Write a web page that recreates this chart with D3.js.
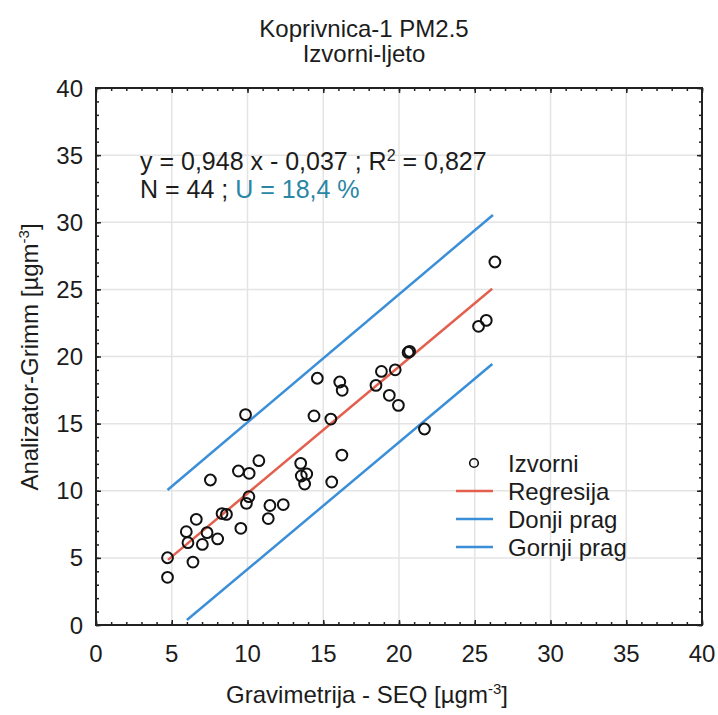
<!DOCTYPE html>
<html>
<head>
<meta charset="utf-8">
<script src="https://cdn.jsdelivr.net/npm/d3@7"></script>
<style>
  body { margin: 0; background: #fff; }
  text { font-family: "Liberation Sans", Arial, sans-serif; fill: #1c1c1c; }
</style>
</head>
<body>
<div id="chart"></div>
<script>
// data
const xTicks = [0, 5, 10, 15, 20, 25, 30, 35, 40]
const yTicks = [0, 5, 10, 15, 20, 25, 30, 35, 40]

// Gravimetrija - SEQ (x) and Analizator-Grimm (y), 44 samples
const gravimetrija = [4.72, 4.72, 6.40, 6.07, 5.96, 6.62, 7.02, 7.33, 8.03, 7.55,
  8.32, 8.61, 9.56, 9.40, 10.11, 9.87, 10.09, 9.93, 10.75, 11.48,
  11.37, 12.36, 13.51, 13.55, 13.91, 13.77, 14.39, 14.61, 15.50, 15.56,
  16.09, 16.25, 16.23, 18.48, 18.84, 19.36, 19.75, 19.96, 20.60, 20.70,
  21.68, 25.25, 25.76, 26.33]
const analizator = [5.01, 3.55, 4.69, 6.13, 6.95, 7.87, 6.00, 6.88, 6.41, 10.80,
  8.30, 8.24, 7.20, 11.47, 11.30, 15.67, 9.56, 9.06, 12.24, 8.90,
  7.93, 8.97, 12.04, 11.10, 11.25, 10.50, 15.57, 18.38, 15.34, 10.65,
  18.10, 17.48, 12.66, 17.85, 18.89, 17.11, 19.01, 16.36, 20.30, 20.38,
  14.60, 22.25, 22.69, 27.04]

// line end points (x, y)
const regresijaX = [4.75, 26.15]
const regresijaY = [4.85, 25.05]
const donjiX = [6.0, 26.16]
const donjiY = [0.37, 19.44]
const gornjiX = [4.72, 26.2]
const gornjiY = [10.06, 30.54]

const legendLabels = ["Izvorni", "Regresija", "Donji prag", "Gornji prag"]

const width = 718
const height = 715
const margin = {top: 88, right: 16, bottom: 90, left: 96}
const red = "#e4604e"
const blue = "#3b8fd8"

var svg = d3.select("#chart")
    .append("svg")
    .attr("width", width)
    .attr("height", height)

var xScale = d3.scaleLinear()
    .domain([0, 40])
    .range([margin.left, width - margin.right])

var yScale = d3.scaleLinear()
    .domain([0, 40])
    .range([height - margin.bottom, margin.top])

// gridlines
svg.append("g")
    .attr("class", "grid")
  .selectAll("line.gx")
    .data(xTicks.slice(1, -1))
    .enter()
    .append("line")
    .attr("x1", function(d) { return xScale(d); })
    .attr("x2", function(d) { return xScale(d); })
    .attr("y1", yScale(0))
    .attr("y2", yScale(40))
    .attr("stroke", "#e4e4e4")
    .attr("stroke-width", 1.5)

svg.select(".grid")
  .selectAll("line.gy")
    .data(yTicks.slice(1, -1))
    .enter()
    .append("line")
    .attr("x1", xScale(0))
    .attr("x2", xScale(40))
    .attr("y1", function(d) { return yScale(d); })
    .attr("y2", function(d) { return yScale(d); })
    .attr("stroke", "#e4e4e4")
    .attr("stroke-width", 1.5)

// axes with inward ticks, major every 5 and minor every 1
var minor = d3.range(0, 41)

function drawAxis(axis, transform, major) {
  svg.append("g")
      .attr("transform", transform)
      .call(axis.tickValues(minor).tickSize(3).tickFormat(""))
      .call(function(g) { g.select(".domain").remove(); })
      .selectAll("line").attr("stroke", "#222").attr("stroke-width", 1.5)
  svg.append("g")
      .attr("transform", transform)
      .call(major)
      .call(function(g) { g.select(".domain").remove(); })
      .selectAll("line").attr("stroke", "#222").attr("stroke-width", 1.5)
}

drawAxis(d3.axisTop(xScale), "translate(0," + yScale(0) + ")",
  d3.axisTop(xScale).tickValues(xTicks).tickSize(5).tickFormat(""))
drawAxis(d3.axisBottom(xScale), "translate(0," + yScale(40) + ")",
  d3.axisBottom(xScale).tickValues(xTicks).tickSize(5).tickFormat(""))
drawAxis(d3.axisRight(yScale), "translate(" + xScale(0) + ",0)",
  d3.axisRight(yScale).tickValues(yTicks).tickSize(5).tickFormat(""))
drawAxis(d3.axisLeft(yScale), "translate(" + xScale(40) + ",0)",
  d3.axisLeft(yScale).tickValues(yTicks).tickSize(5).tickFormat(""))

// frame
svg.append("rect")
    .attr("x", xScale(0))
    .attr("y", yScale(40))
    .attr("width", xScale(40) - xScale(0))
    .attr("height", yScale(0) - yScale(40))
    .attr("fill", "none")
    .attr("stroke", "#222")
    .attr("stroke-width", 2)

// tick labels
svg.append("g")
  .selectAll("text")
    .data(xTicks)
    .enter()
    .append("text")
    .attr("x", function(d) { return xScale(d); })
    .attr("y", yScale(0) + 37)
    .attr("text-anchor", "middle")
    .attr("font-size", "24px")
    .text(function(d) { return d; })

svg.append("g")
  .selectAll("text")
    .data(yTicks)
    .enter()
    .append("text")
    .attr("x", xScale(0) - 13)
    .attr("y", function(d) { return yScale(d) + 8.5; })
    .attr("text-anchor", "end")
    .attr("font-size", "24px")
    .text(function(d) { return d; })

// lines
var line = d3.line()
    .x(function(d) { return xScale(d[0]); })
    .y(function(d) { return yScale(d[1]); })

var lines = [
  {x: gornjiX, y: gornjiY, color: blue},
  {x: donjiX, y: donjiY, color: blue},
  {x: regresijaX, y: regresijaY, color: red}
]

svg.append("g")
  .selectAll("path")
    .data(lines)
    .enter()
    .append("path")
    .attr("d", function(d) { return line(d3.zip(d.x, d.y)); })
    .attr("fill", "none")
    .attr("stroke", function(d) { return d.color; })
    .attr("stroke-width", 2.5)

// points
svg.append("g")
  .selectAll("circle")
    .data(d3.zip(gravimetrija, analizator))
    .enter()
    .append("circle")
    .attr("cx", function(d) { return xScale(d[0]); })
    .attr("cy", function(d) { return yScale(d[1]); })
    .attr("r", 5.4)
    .attr("fill", "none")
    .attr("stroke", "#111")
    .attr("stroke-width", 2)

// equation text
var eq = svg.append("text")
    .attr("x", 140)
    .attr("y", 170)
    .attr("font-size", "25px")
eq.append("tspan").text("y = 0,948 x - 0,037 ; R")
eq.append("tspan").attr("font-size", "16px").attr("dy", -9).text("2")
eq.append("tspan").attr("dy", 9).text(" = 0,827")

var nText = svg.append("text")
    .attr("x", 140)
    .attr("y", 198)
    .attr("font-size", "25px")
nText.append("tspan").text("N = 44 ; ")
nText.append("tspan").style("fill", "#2a86a6").text("U = 18,4 %")

// legend
var legend = svg.append("g")
  .selectAll("g")
    .data(legendLabels)
    .enter()
    .append("g")
    .attr("transform", function(d, i) { return "translate(0," + (463 + i * 28) + ")"; })

legend.append("text")
    .attr("x", 508)
    .attr("y", 8.5)
    .attr("font-size", "24px")
    .text(function(d) { return d; })

legend.filter(function(d, i) { return i == 0; })
    .append("circle")
    .attr("cx", 474)
    .attr("cy", 0)
    .attr("r", 4.3)
    .attr("fill", "none")
    .attr("stroke", "#111")
    .attr("stroke-width", 1.6)

legend.filter(function(d, i) { return i > 0; })
    .append("line")
    .attr("x1", 456)
    .attr("x2", 493)
    .attr("y1", 0)
    .attr("y2", 0)
    .attr("stroke", function(d, i) { return i == 0 ? red : blue; })
    .attr("stroke-width", 2.5)

// title
svg.append("text")
    .attr("x", 364)
    .attr("y", 37)
    .attr("text-anchor", "middle")
    .attr("font-size", "24px")
    .text("Koprivnica-1 PM2.5")

svg.append("text")
    .attr("x", 364)
    .attr("y", 62)
    .attr("text-anchor", "middle")
    .attr("font-size", "24px")
    .text("Izvorni-ljeto")

// axis titles
var xTitle = svg.append("text")
    .attr("x", 367)
    .attr("y", 703)
    .attr("text-anchor", "middle")
    .attr("font-size", "24px")
xTitle.append("tspan").text("Gravimetrija - SEQ [µgm")
xTitle.append("tspan").attr("font-size", "15px").attr("dy", -9).text("-3")
xTitle.append("tspan").attr("dy", 9).text("]")

var yTitle = svg.append("text")
    .attr("transform", "translate(38," + 357 + ") rotate(-90)")
    .attr("text-anchor", "middle")
    .attr("font-size", "24px")
yTitle.append("tspan").text("Analizator-Grimm [µgm")
yTitle.append("tspan").attr("font-size", "15px").attr("dy", -9).text("-3")
yTitle.append("tspan").attr("dy", 9).text("]")
</script>
</body>
</html>
